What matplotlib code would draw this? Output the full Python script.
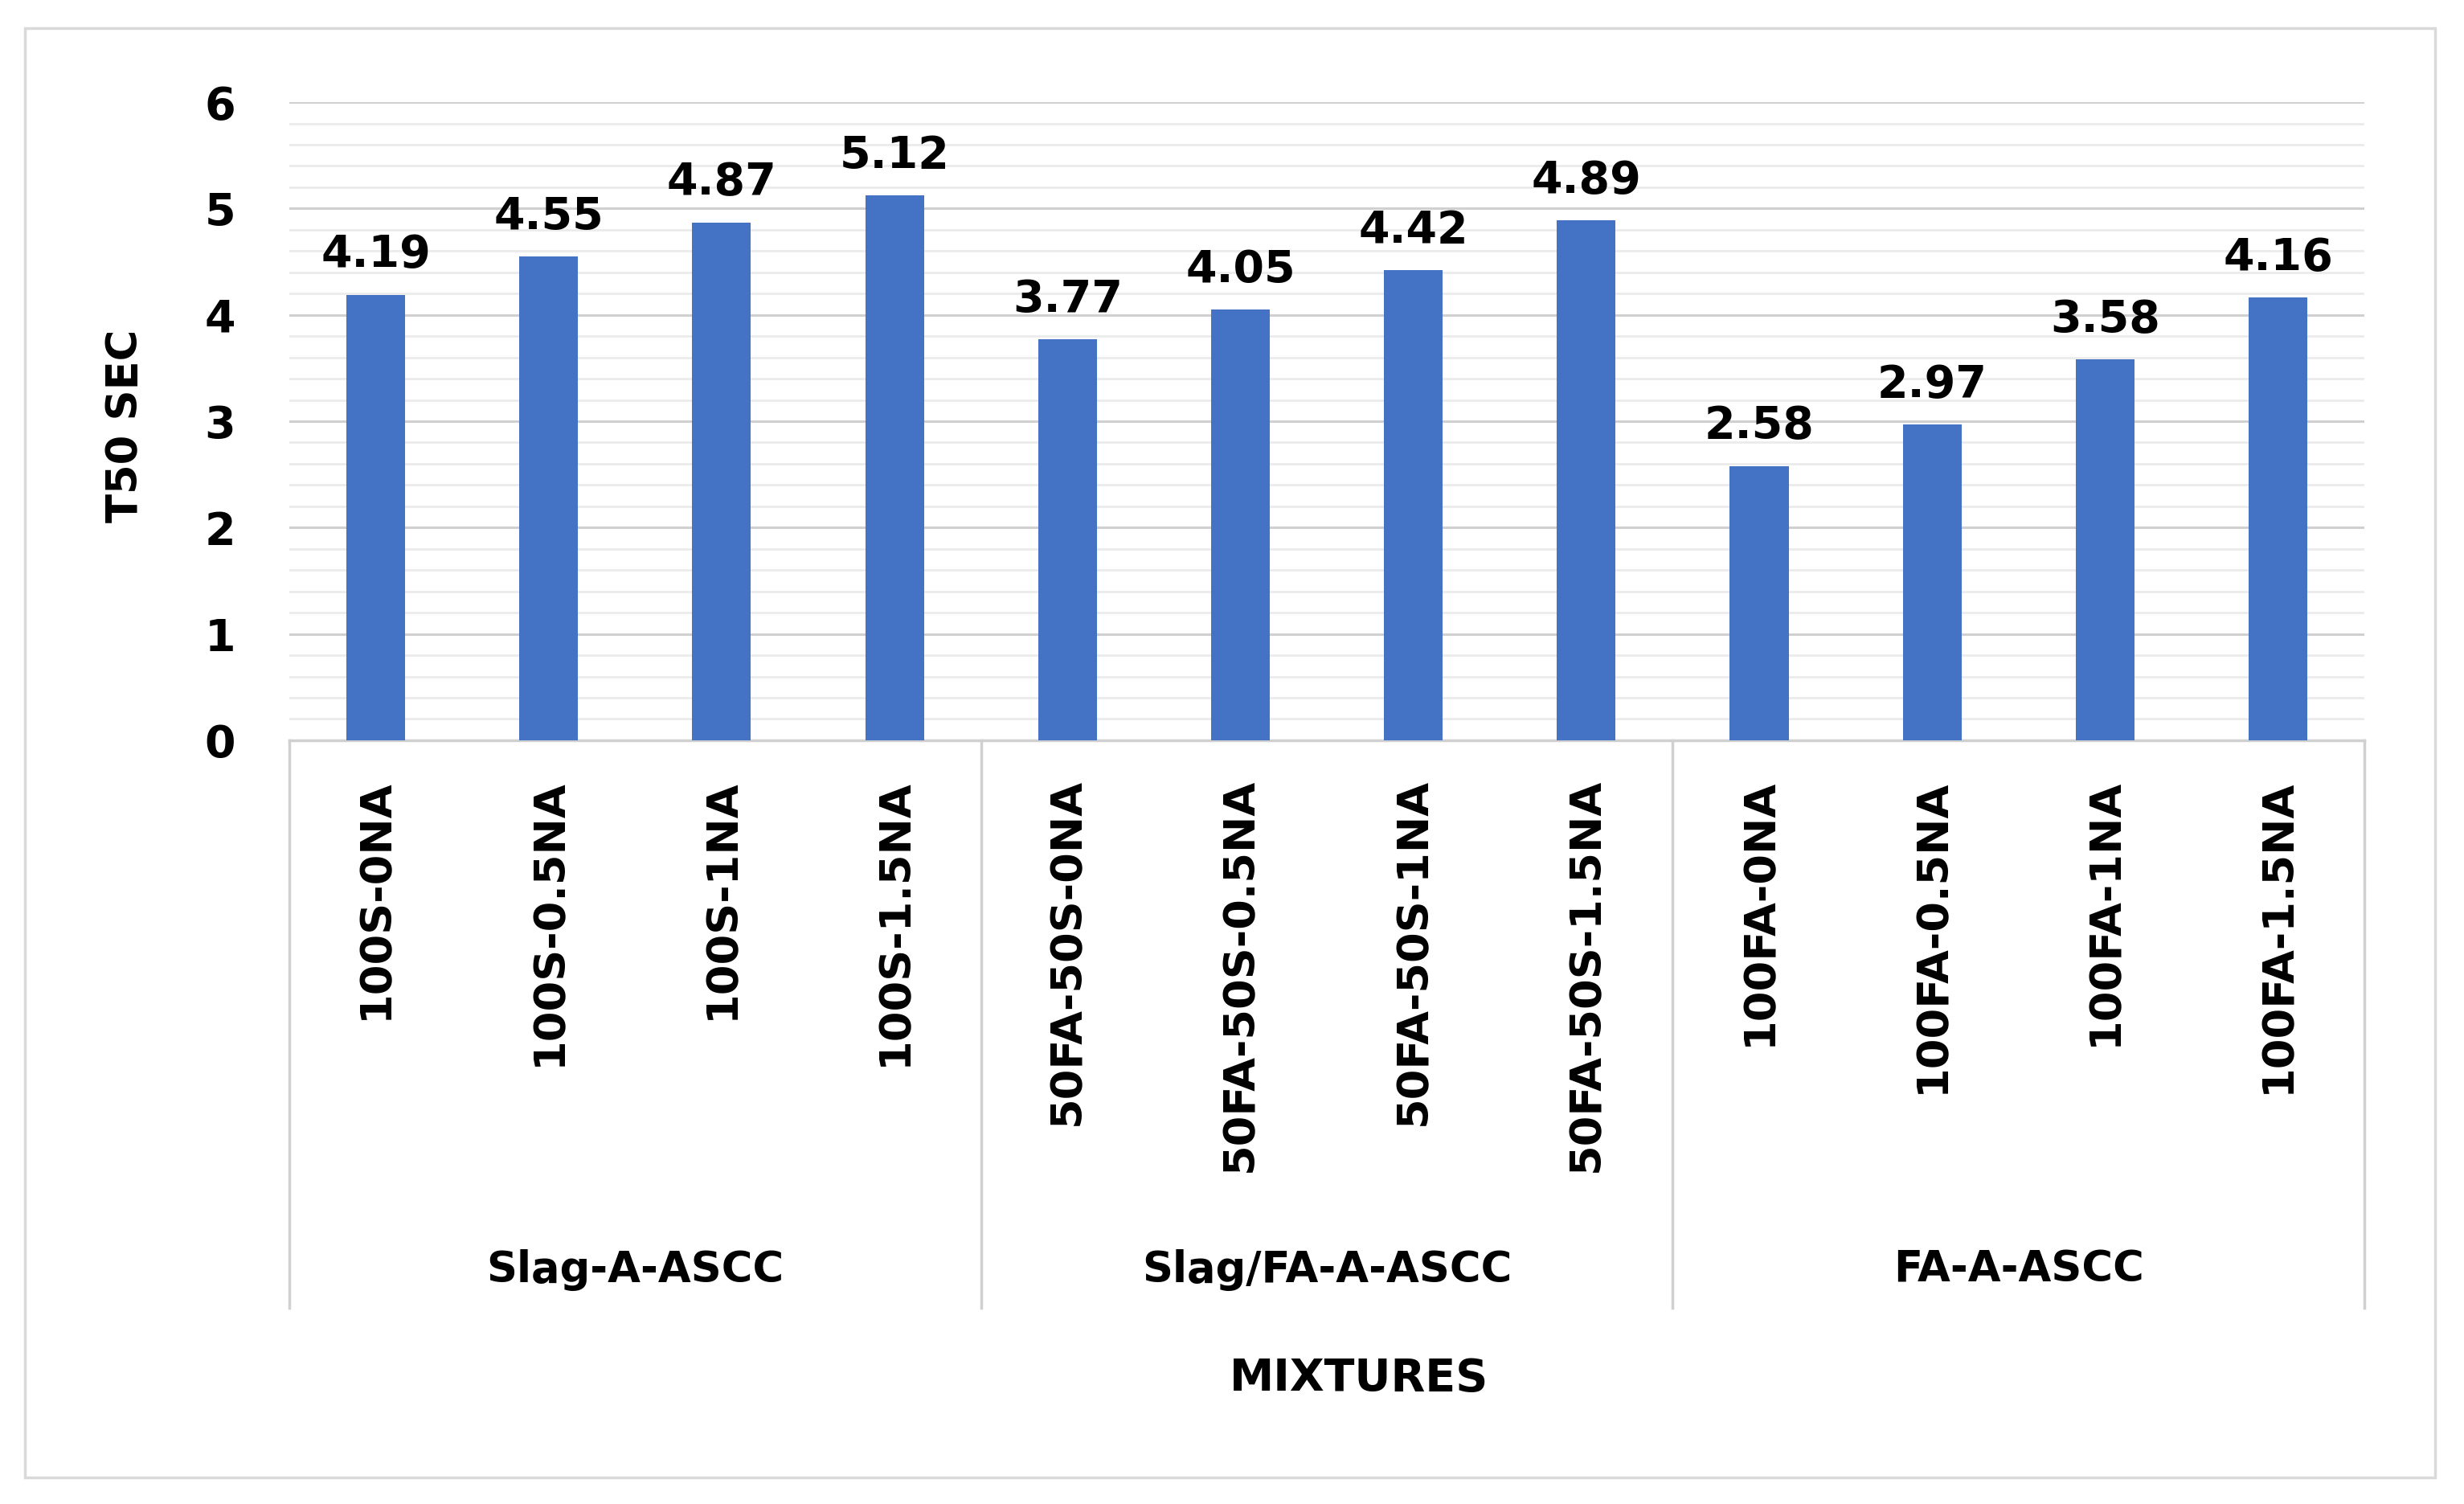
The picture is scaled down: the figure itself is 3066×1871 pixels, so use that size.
import numpy as np
import matplotlib.pyplot as plt
from matplotlib.patches import Rectangle
import matplotlib.transforms as mtransforms

plt.rcParams["font.family"] = ["DejaVu Sans"]

# data
mixes = ["100S-0NA", "100S-0.5NA", "100S-1NA", "100S-1.5NA",
         "50FA-50S-0NA", "50FA-50S-0.5NA", "50FA-50S-1NA", "50FA-50S-1.5NA",
         "100FA-0NA", "100FA-0.5NA", "100FA-1NA", "100FA-1.5NA"]
t50 = [4.19, 4.55, 4.87, 5.12, 3.77, 4.05, 4.42, 4.89, 2.58, 2.97, 3.58, 4.16]
groups = ["Slag-A-ASCC", "Slag/FA-A-ASCC", "FA-A-ASCC"]
group_size = [4, 4, 4]

fig = plt.figure(figsize=(30.66, 18.71), dpi=100)
ax = fig.add_axes([0.1174, 0.5078, 0.8422, 0.4243])

x = np.arange(len(mixes))
ax.bar(x, t50, width=0.34, color="#4472C4", zorder=3)

for xi, v in zip(x, t50):
    ax.annotate(f"{v:.2f}", (xi, v), xytext=(0, 16), textcoords="offset points",
                ha="center", va="bottom", fontsize=40, fontweight="bold")

ax.set_xlim(-0.5, len(mixes) - 0.5)
ax.set_ylim(0, 6)
ax.set_yticks(range(0, 7))
ax.set_yticks(np.arange(0, 6.01, 0.2), minor=True)
ax.grid(axis="y", which="major", color="#d0d0d0", linewidth=2.2, zorder=0)
ax.grid(axis="y", which="minor", color="#ebebeb", linewidth=2.0, zorder=0)
ax.tick_params(axis="y", which="both", length=0, pad=48, labelsize=40)
for lab in ax.get_yticklabels():
    lab.set_fontweight("bold")

ax.set_xticks(x)
ax.set_xticklabels(mixes, rotation=90, fontsize=39, fontweight="bold", va="top")
ax.tick_params(axis="x", length=0, pad=34)

for s in ["left", "right", "top"]:
    ax.spines[s].set_visible(False)
ax.spines["bottom"].set_color("#d0d0d0")
ax.spines["bottom"].set_linewidth(2.5)

# group separators and labels under the axis
trans = mtransforms.blended_transform_factory(ax.transData, ax.transAxes)
edges = np.concatenate([[0], np.cumsum(group_size)]) - 0.5
for e in edges:
    ax.plot([e, e], [0, -0.889], transform=trans, color="#d0d0d0",
            linewidth=2.5, clip_on=False)
for i, g in enumerate(groups):
    mid = (edges[i] + edges[i + 1]) / 2
    ax.text(mid, -0.83, g, transform=trans, ha="center", va="center",
            fontsize=38, fontweight="bold")

fig.text(1691 / 3066, 1 - 1715 / 1871, "MIXTURES", ha="center", va="center",
         fontsize=40, fontweight="bold")
fig.text(156 / 3066, 1 - 530 / 1871, "T50 SEC", rotation=90, ha="center",
         va="center", fontsize=38, fontweight="bold")

fig.patches.append(Rectangle((0.0101, 0.0176), 0.978, 0.9637, transform=fig.transFigure,
                             fill=False, edgecolor="#d9d9d9", linewidth=2.5))

fig.savefig("out.png", dpi=100, facecolor="white")
